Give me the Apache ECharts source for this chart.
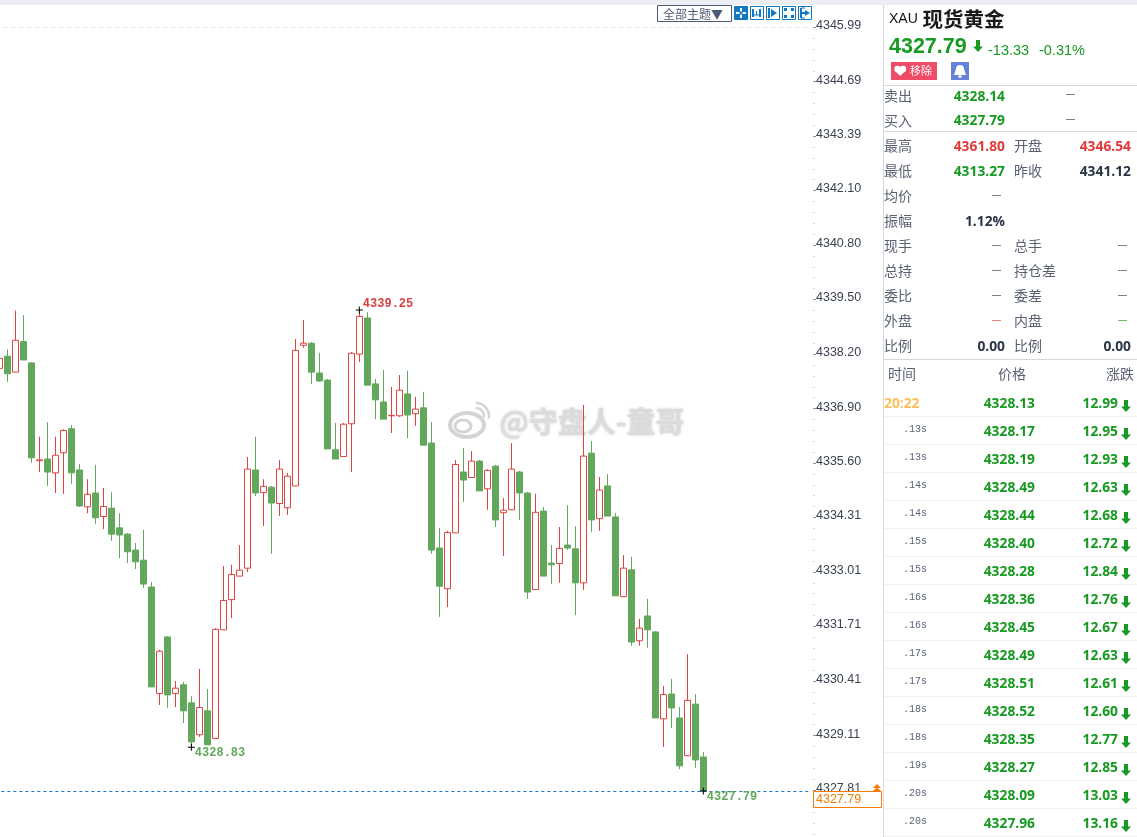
<!DOCTYPE html>
<html><head><meta charset="utf-8">
<style>html,body{margin:0;padding:0;background:#fff;overflow:hidden}#c{width:1137px;height:837px}</style>
<script src="https://cdn.jsdelivr.net/npm/echarts@6/dist/echarts.min.js"></script>
</head><body><div id="c"></div>
<script>
const opens=[4337.86,4338.15,4337.77,4338.50,4337.99,4335.66,4335.70,4335.37,4335.85,4336.42,4335.44,4334.56,4334.89,4334.33,4334.53,4334.06,4333.91,4333.53,4333.29,4332.65,4330.11,4331.46,4330.11,4330.32,4329.89,4329.13,4329.70,4329.04,4331.63,4332.35,4332.91,4333.10,4335.44,4334.90,4335.03,4334.64,4334.54,4335.06,4338.41,4338.46,4337.75,4337.58,4335.92,4335.76,4336.54,4338.20,4339.06,4337.49,4337.06,4336.73,4336.73,4337.25,4336.78,4336.92,4336.08,4333.58,4332.61,4333.94,4335.39,4335.26,4335.65,4334.99,4335.53,4334.42,4334.49,4335.39,4334.89,4332.59,4334.46,4333.22,4333.21,4333.65,4333.56,4332.75,4335.84,4334.28,4335.06,4334.32,4332.42,4333.06,4331.37,4331.96,4331.58,4329.51,4330.10,4329.53,4328.63,4329.86,4328.60];
const closes=[4338.10,4337.73,4338.53,4338.06,4335.73,4335.68,4335.39,4335.79,4336.38,4335.37,4334.58,4334.86,4334.30,4334.57,4333.91,4333.89,4333.49,4333.25,4332.72,4330.27,4331.12,4330.08,4330.24,4329.70,4328.96,4329.78,4328.89,4331.64,4332.33,4332.95,4333.05,4335.46,4334.89,4335.05,4334.65,4335.46,4335.29,4338.29,4338.46,4337.77,4337.56,4335.94,4335.70,4336.53,4338.22,4339.10,4337.46,4337.11,4336.65,4336.74,4337.34,4336.75,4336.89,4336.03,4333.53,4332.67,4333.95,4335.57,4335.20,4335.65,4334.94,4335.43,4334.25,4334.48,4335.46,4334.89,4332.53,4334.43,4332.91,4333.18,4333.57,4333.58,4332.75,4335.77,4334.25,4334.96,4334.34,4332.44,4333.10,4331.34,4331.67,4331.63,4329.53,4330.09,4329.77,4328.39,4329.95,4328.53,4327.79];
const lows=[4337.73,4337.54,4337.77,4338.06,4335.61,4335.39,4335.06,4334.89,4334.87,4335.11,4334.56,4334.41,4334.15,4334.03,4333.75,4333.34,4333.22,4333.08,4332.63,4330.27,4329.84,4329.77,4329.79,4329.41,4328.83,4329.08,4328.89,4329.04,4331.63,4331.91,4332.91,4333.01,4334.82,4334.10,4333.44,4334.34,4334.37,4335.06,4338.35,4337.49,4337.54,4335.94,4335.70,4335.76,4335.39,4338.01,4337.46,4336.65,4336.65,4336.32,4336.70,4336.20,4336.49,4336.03,4333.44,4331.94,4332.17,4333.94,4334.68,4335.26,4334.94,4334.49,4334.08,4333.39,4334.49,4334.25,4332.37,4332.59,4332.91,4332.72,4332.75,4333.53,4331.98,4332.58,4333.96,4333.99,4334.34,4332.44,4332.42,4331.25,4331.25,4331.20,4329.53,4328.84,4329.29,4328.31,4328.63,4328.34,4327.79];
const highs=[4338.25,4338.31,4339.24,4339.13,4338.01,4336.23,4336.58,4336.23,4336.41,4336.51,4335.58,4335.22,4335.56,4335.01,4334.91,4334.41,4333.94,4333.70,4334.01,4332.77,4331.15,4331.48,4330.41,4330.39,4330.05,4330.70,4330.22,4331.67,4333.15,4333.18,4333.65,4335.75,4336.23,4335.22,4335.06,4335.68,4335.37,4338.56,4339.01,4338.49,4338.23,4337.61,4336.56,4336.56,4338.25,4339.25,4339.20,4337.61,4337.82,4337.42,4337.70,4337.80,4337.18,4337.30,4336.58,4334.06,4333.99,4335.68,4335.96,4335.89,4335.68,4335.46,4335.56,4334.77,4336.08,4335.42,4334.91,4334.87,4334.56,4333.65,4334.08,4334.60,4334.10,4336.99,4336.13,4335.27,4335.34,4334.41,4333.41,4333.37,4331.89,4332.37,4331.60,4330.29,4330.46,4329.79,4331.05,4330.10,4328.72];
const axisSlots=Array.from({length:102},(_,i)=>String(i));
const tickLabels=[4345.99,4344.69,4343.39,4342.10,4340.80,4339.50,4338.20,4336.90,4335.60,4334.31,4333.01,4331.71,4330.41,4329.11,4327.81];
const lastPrice=4327.79;
const extremes=[{i:45,v:4339.25,c:'#d94040',dy:-2.5},{i:24,v:4328.83,c:'#62a85c',dy:9.5},{i:88,v:4327.79,c:'#62a85c',dy:9.5}];
const quoteRows=[['卖出','4328.14','—'],['买入','4327.79','—']];
const statRows=[
 ['最高','4361.80','#e03a3a','开盘','4346.54','#e03a3a'],
 ['最低','4313.27','#169a22','昨收','4341.12','#2a3548'],
 ['均价','—','#2a3548','','',''],
 ['振幅','1.12%','#2a3548','','',''],
 ['现手','—','#2a3548','总手','—','#2a3548'],
 ['总持','—','#2a3548','持仓差','—','#2a3548'],
 ['委比','—','#2a3548','委差','—','#2a3548'],
 ['外盘','—','#e03a3a','内盘','—','#169a22'],
 ['比例','0.00','#2a3548','比例','0.00','#2a3548']];
const tickTimes=['20:22','.13s','.13s','.14s','.14s','.15s','.15s','.16s','.16s','.17s','.17s','.18s','.18s','.19s','.20s','.20s'];
const tickPrices=['4328.13','4328.17','4328.19','4328.49','4328.44','4328.40','4328.28','4328.36','4328.45','4328.49','4328.51','4328.52','4328.35','4328.27','4328.09','4327.96'];
const tickChanges=['12.99','12.95','12.93','12.63','12.68','12.72','12.84','12.76','12.67','12.63','12.61','12.60','12.77','12.85','13.03','13.16'];

const GREEN='#169a22', CJK='"Noto Sans CJK SC"', LAB='#5a6272', BOLD='"Open Sans"', BS=13.8;
const g=[];
function T(x,y,text,fill,font,size,weight,align,z){g.push({type:'text',x,y,z:z||50,silent:true,style:{text,fill,fontFamily:font,fontSize:size,fontWeight:weight||'normal',align:align||'left',verticalAlign:'middle'}});}
function R(x,y,w,h,fill,stroke,z){g.push({type:'rect',z:z||50,silent:true,shape:{x,y,width:w,height:h},style:{fill:fill||'none',stroke:stroke||'none',lineWidth:stroke?1:0}});}
function L(x1,y1,x2,y2,c,w,z){g.push({type:'line',z:z||50,silent:true,shape:{x1,y1,x2,y2},style:{stroke:c,lineWidth:w||1}});}
function P(pts,fill,z){g.push({type:'polygon',z:z||50,silent:true,shape:{points:pts},style:{fill}});}
function C(cx,cy,r,fill,z){g.push({type:'circle',z:z||50,silent:true,shape:{cx,cy,r},style:{fill}});}
function arrow(x,y,w,h,c){const m=x+w/2,s=w*0.2;P([[m-s,y],[m+s,y],[m+s,y+h*0.55],[x+w,y+h*0.55],[m,y+h],[x,y+h*0.55],[m-s,y+h*0.55]],c);}

// frame
R(0,0,1137,5,'#eceef3');
R(883,5,1,832,'#d3d8df');
// toolbar
R(657.5,5.5,74,16,'#fff','#4c5c78');
T(663,14,'全部主题▼','#4c5c78',CJK,12);
const ib='#1278c6';
[734,750,766,782,798].forEach((x,i)=>{R(x+.5,6.5,13,13,i===0?ib:'#fff',ib);});
L(741,8,741,18,'#fff',2);L(736,13,746,13,'#fff',2);R(739.5,11.5,3,3,ib);
L(753,9,753,17,ib,2);L(760,9,760,17,ib,2);L(752,15,761,15,ib,1);L(756.5,11,756.5,15,ib,1);
L(769,8,769,18,ib,2);P([[771,9],[777,13],[771,17]],ib);
[[784,8],[791,8],[784,15],[791,15]].forEach(p=>R(p[0],p[1],3,3,ib));
L(801,8,801,18,ib,2);L(801,8,805,8,ib,1);L(801,18,805,18,ib,1);P([[805,10],[810,13],[805,16]],ib);R(802,12,4,2,ib);
// title
T(889,19,'XAU','#111','Liberation Sans',14);
T(922.5,19,'现货黄金','#1a1a1a',CJK,20.5,'bold');
T(889,47,'4327.79',GREEN,'Liberation Sans',21.5,'bold');
arrow(973,40,10,12,GREEN);
T(988,51,'-13.33',GREEN,'Liberation Sans',14.5);
T(1039,51,'-0.31%',GREEN,'Liberation Sans',14.5);
R(891,62,46,18,'#ef4a66');
C(897.5,69,3.2,'#fff');C(903,69,3.2,'#fff');P([[894.6,70.5],[905.9,70.5],[900.2,76]],'#fff');
T(910,71,'移除','#fff',CJK,11);
R(951,62,18,18,'#6681d8');
C(960,69,4,'#fff');P([[956,69],[964,69],[966,75],[954,75]],'#fff');C(960,76.5,1.5,'#fff');
L(884,85.5,1137,85.5,'#d3d8df');
// quotes
quoteRows.forEach((r,i)=>{const y=96+i*24.5;
 T(884,y,r[0],LAB,CJK,14);
 T(1005,y+.7,r[1],GREEN,BOLD,BS,'bold','right');
 T(1066,y-1,r[2],'#333','Liberation Sans',9);});
L(884,131.5,1137,131.5,'#d3d8df');
statRows.forEach((r,i)=>{const y=146+i*25;
 T(884,y,r[0],LAB,CJK,14);
 if(r[1]==='—')T(992,y,r[1],r[2],'Liberation Sans',9);else T(1005,y+.7,r[1],r[2],BOLD,BS,'bold','right');
 if(r[3]){T(1014,y,r[3],LAB,CJK,14);
  if(r[4]==='—')T(1118,y,r[4],r[5],'Liberation Sans',9);else T(1131,y+.7,r[4],r[5],BOLD,BS,'bold','right');}
});
L(884,359.5,1137,359.5,'#d3d8df');
T(888,374,'时间',LAB,CJK,14);T(998,374,'价格',LAB,CJK,14);T(1106,374,'涨跌',LAB,CJK,14);
tickTimes.forEach((t,i)=>{const y=403+i*28;
 if(i===0)T(884,y+.7,t,'#fdc15a',BOLD,BS,'bold');else T(903,y-2,t,'#5a6478','Liberation Mono',10);
 T(1035,y+.7,tickPrices[i],GREEN,BOLD,BS,'bold','right');
 T(1118,y+.7,tickChanges[i],GREEN,BOLD,BS,'bold','right');
 arrow(1121,y-3,10,12,GREEN);
 L(884,y+13.5,1137,y+13.5,'#f0f1f3');
});
// orange last box
R(813.5,791.5,68,16,'#fff','#f57c00',60);
T(816,800,'4327.79','#f57c00','Liberation Sans',12.5,'normal','left',61);
P([[877,784],[881,788],[873,788]],'#f57c00',61);P([[877,787.5],[881,791],[873,791]],'#f57c00',61);
// watermark
const wm='#d4d4d4';
g.push({type:'ellipse',z:0,silent:true,shape:{cx:467,cy:425,rx:17,ry:12},style:{fill:'none',stroke:wm,lineWidth:4}});
g.push({type:'ellipse',z:0,silent:true,shape:{cx:463,cy:426,rx:8,ry:6},style:{fill:'none',stroke:wm,lineWidth:3}});
g.push({type:'arc',z:0,silent:true,shape:{cx:476,cy:416,r:8,startAngle:-1.6,endAngle:0.2},style:{fill:'none',stroke:wm,lineWidth:2.5}});
g.push({type:'arc',z:0,silent:true,shape:{cx:476,cy:416,r:13,startAngle:-1.6,endAngle:0.2},style:{fill:'none',stroke:wm,lineWidth:2.5}});
g.push({type:'text',x:499.5,y:422,z:0,silent:true,style:{text:'@守盘人-童哥',fill:'#dcdcdc',fontFamily:CJK,fontSize:29,fontWeight:'bold',verticalAlign:'middle',textShadowColor:'#cccccc',textShadowBlur:3}});

const UP='#e0443e',DN='#62a85c';
const minorTicks=[];
tickLabels.forEach((v,i)=>{if(i<tickLabels.length-1){for(let k=1;k<5;k++)minorTicks.push(+(v+(tickLabels[i+1]-v)*k/5).toFixed(3));}});
minorTicks.push(4327.55,4327.29,4327.03,4326.77);
const yMin=4326.694,yMax=4346.518;
const chart=echarts.init(document.getElementById('c'),null,{renderer:'canvas'});
chart.setOption({
 animation:false,backgroundColor:'#fff',
 grid:{left:-4.67,width:816,top:5,bottom:0,outerBoundsMode:'none'},
 xAxis:{type:'category',data:axisSlots,boundaryGap:true,axisLine:{show:false},axisTick:{show:false},axisLabel:{show:false},splitLine:{show:false}},
 yAxis:[
  {type:'value',position:'right',offset:4.67,min:yMin,max:yMax,scale:true,
   axisLine:{show:false},splitLine:{show:false},
   axisTick:{show:true,inside:true,length:3,customValues:tickLabels,lineStyle:{color:'#8a8f98',width:1}},
   axisLabel:{show:true,inside:false,margin:0,customValues:tickLabels,formatter:v=>'{a|'+v.toFixed(2)+'}',
    rich:{a:{color:'#3a4350',fontFamily:'Liberation Sans',fontSize:12.5,padding:[0,0,3,0]}}}},
  {type:'value',position:'right',offset:3.17,min:yMin,max:yMax,scale:true,
   axisLine:{show:false},splitLine:{show:false},
   axisTick:{show:true,inside:true,length:1,customValues:minorTicks,lineStyle:{color:'#a8adb5',width:1}},
   axisLabel:{show:false,customValues:minorTicks}}
 ],
 graphic:g,
 series:[{type:'candlestick',name:'XAU',barWidth:6.5,
  data:opens.map((o,i)=>[o,closes[i],lows[i],highs[i]]),
  itemStyle:{color:'#fff',color0:DN,borderColor:UP,borderColor0:DN,borderColorDoji:UP,borderWidth:1},
  markLine:{silent:true,symbol:'none',animation:false,label:{show:false},
   data:[{yAxis:lastPrice,lineStyle:{color:'#1a73d0',type:[3,3],width:1}},
         {yAxis:tickLabels[0],lineStyle:{color:'#e3e5e9',type:[4,4],width:1}}]},
  markPoint:{silent:true,animation:false,symbol:'path://M0 3H7V4H0ZM3 0H4V7H3Z',symbolSize:7,itemStyle:{color:'#000'},
   data:extremes.map(e=>({coord:[axisSlots[e.i],e.v],label:{show:true,position:[7,e.dy],align:'left',verticalAlign:'middle',color:e.c,fontFamily:'Liberation Mono',fontWeight:'bold',fontSize:12,formatter:e.v.toFixed(2)}}))}
 }]
});
</script></body></html>
